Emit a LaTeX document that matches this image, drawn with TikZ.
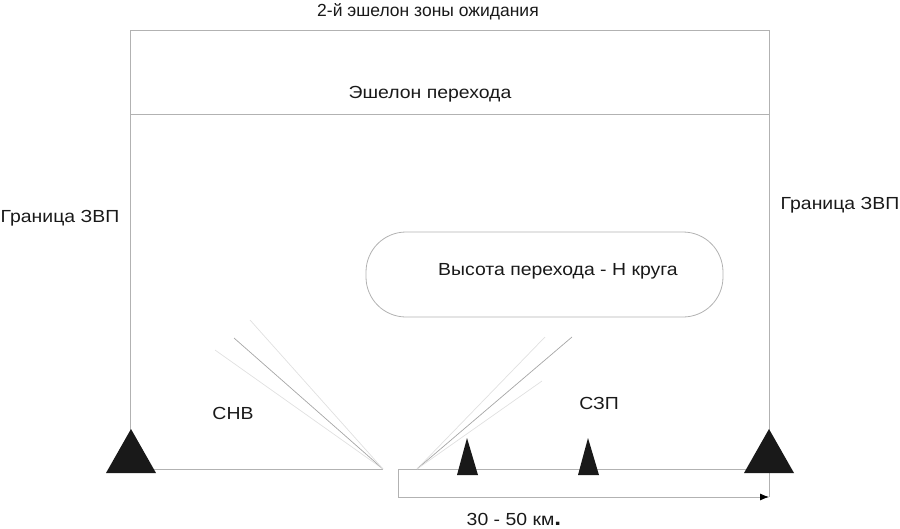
\documentclass[tikz,border=0pt]{standalone}
\usepackage{fontspec}
\setmainfont{Liberation Sans}
\newfontfamily\widesans[FakeStretch=1.11]{Liberation Sans}
\usetikzlibrary{positioning}
\usetikzlibrary{arrows.meta}

\begin{document}
\begin{tikzpicture}[x=1pt, y=-1pt,
		frame/.style={draw=black!30, line width=0.8pt},
		ray/.style={draw=black!12, line width=0.7pt},
		mainray/.style={draw=black!35, line width=0.7pt},
		lbl/.style={font=\widesans\fontsize{17.5}{20}\selectfont, inner sep=0pt, text=black!90},
		toplbl/.style={font=\fontsize{17.5}{20}\selectfont, inner sep=0pt, text=black!90}]
		\useasboundingbox (0,0) rectangle (900,528);
		% frame of the zone
		\coordinate (TL) at (130,30);
		\coordinate (TR) at (769,30);
		\coordinate (ML) at (130,114);
		\coordinate (MR) at (769,114);
		\coordinate (BL) at (130,469);
		\coordinate (BR) at (769,469);
		\coordinate (GL) at (383,469);
		\coordinate (GR) at (398,469);
		\coordinate (FR) at (417,469);
		\coordinate (DL) at (398,497);
		\coordinate (DR) at (769,497);
		\draw[frame] (BL) -- (TL) -- (TR) -- (DR);
		\draw[frame] (ML) -- (MR);
		\draw[frame] (BL) -- (GL);
		\draw[frame] (GR) -- (BR);
		\draw[frame, -{Latex[black, length=9pt, width=7pt]}] (GR) -- (DL) -- (DR);
		% rays
		\draw[ray] (GL) -- (215,350);
		\draw[mainray] (GL) -- (234,338);
		\draw[ray] (GL) -- (250,320);
		\draw[ray] (FR) -- (545,337);
		\draw[mainray] (FR) -- (572,337);
		\draw[ray] (FR) -- (542,381);
		% beacons
		\fill[black!90] (131,429) -- (106,473) -- (156,473) -- cycle;
		\fill[black!90] (769,429) -- (744,473) -- (794,473) -- cycle;
		\fill[black!90] (467,438) -- (457,475) -- (478,475) -- cycle;
		\fill[black!90] (588,438) -- (578,475) -- (599,475) -- cycle;
		% circle box
		\node[frame, rounded corners=40pt, minimum width=357pt, minimum height=85pt] (K) at (544.5,274.5) {};
		\node[lbl] (HK) at (558,271) {Высота перехода - Н круга};
		% labels
		\node[toplbl, anchor=base] (E2) at (428,16) {2-й эшелон зоны ожидания};
		\node[lbl] (EP) at (430,94) {Эшелон перехода};
		\node[lbl] (GZL) at (60,218) {Граница ЗВП};
		\node[lbl] (GZR) at (840,205) {Граница ЗВП};
		\node[lbl] (SNV) at (233,413) {СНВ};
		\node[lbl] (SZP) at (599,403) {СЗП};
		\node[lbl, anchor=base] (DIST) at (514,525) {30 - 50 км\textbf{\fontsize{22}{22}\selectfont.}};
\end{tikzpicture}
\end{document}
